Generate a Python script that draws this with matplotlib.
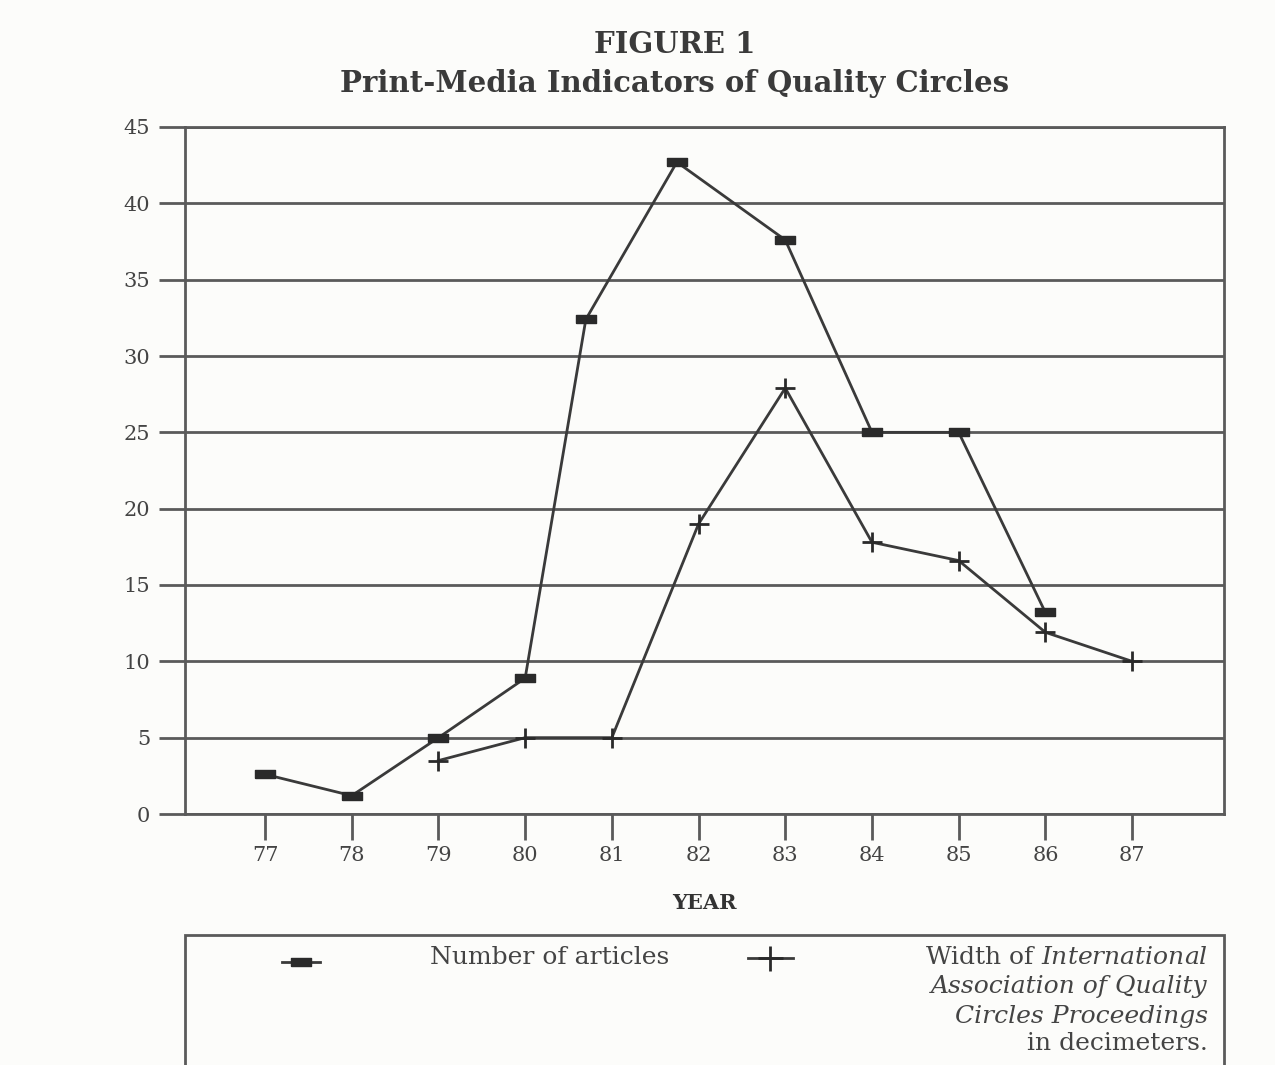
import matplotlib
matplotlib.use("Agg")
import matplotlib.pyplot as plt
from matplotlib.lines import Line2D
from matplotlib.patches import Rectangle

# values
years = [77, 78, 79, 80, 81, 82, 83, 84, 85, 86, 87]
articles_x = [77, 78, 79, 80, 80.7, 81.75, 83, 84, 85, 86]
articles_y = [2.6, 1.2, 5, 8.9, 32.4, 42.7, 37.6, 25, 25, 13.2]
width_x = [79, 80, 81, 82, 83, 84, 85, 86, 87]
width_y = [3.5, 5, 5, 19, 27.9, 17.8, 16.6, 11.9, 10]
yticks = [0, 5, 10, 15, 20, 25, 30, 35, 40, 45]

plt.rcParams["font.family"] = "DejaVu Serif"
plt.rcParams["mathtext.fontset"] = "custom"
plt.rcParams["mathtext.rm"] = "DejaVu Serif"
plt.rcParams["mathtext.it"] = "DejaVu Serif:italic"

ink = "#3a3a3a"
grid = "#5a5a5a"
text_c = "#444444"
bg = "#fcfcfa"

W, H = 1275, 1065
fig = plt.figure(figsize=(W / 100, H / 100), dpi=100, facecolor=bg)
ax = fig.add_axes([185 / W, 1 - 814 / H, (1224 - 185) / W, (814 - 127) / H])
ax.set_facecolor(bg)

# rectangle marker for the article counts
rect = [(-1, -0.38), (1, -0.38), (1, 0.38), (-1, 0.38), (-1, -0.38)]

ax.plot(articles_x, articles_y, color=ink, lw=2, marker=rect, ms=15,
        mfc="#2a2a2a", mec="#2a2a2a", zorder=3)
ax.plot(width_x, width_y, color=ink, lw=2, marker="+", ms=15, mew=2,
        mec="#2a2a2a", zorder=3)

ax.set_xlim(76.077, 88.06)
ax.set_ylim(0, 45)
ax.set_xticks(years)
ax.set_xticklabels([str(y) for y in years])
ax.set_yticks(yticks)
ax.yaxis.grid(True, color=grid, lw=2)
ax.set_axisbelow(True)

ax.tick_params(axis="x", length=19, width=2, color=grid, direction="out",
               labelsize=15, labelcolor=text_c, pad=4)
ax.tick_params(axis="y", length=19, width=2, color=grid, direction="out",
               labelsize=15, labelcolor=text_c, pad=6)
for s in ax.spines.values():
    s.set_color(grid)
    s.set_linewidth(2)

ax.set_xlabel("YEAR", fontsize=15, fontweight="bold", color="#333333",
              labelpad=20)

fig.text(675 / W, 1 - 45 / H, "FIGURE 1", ha="center", va="center",
         fontsize=21, fontweight="bold", color="#3a3a3a")
fig.text(675 / W, 1 - 83 / H, "Print-Media Indicators of Quality Circles",
         ha="center", va="center", fontsize=21, fontweight="bold",
         color="#3a3a3a")

# legend box, open at the bottom of the page
fig.add_artist(Rectangle((185 / W, -0.05), (1224 - 185) / W,
                         0.05 + (1065 - 935) / H, transform=fig.transFigure,
                         fill=False, ec=grid, lw=2))

fig.add_artist(Line2D([282 / W, 320 / W], [1 - 962 / H] * 2,
                      transform=fig.transFigure, color=ink, lw=2))
fig.add_artist(Line2D([301 / W], [1 - 962 / H], transform=fig.transFigure,
                      marker=rect, ms=15, color="#2a2a2a", lw=0))
fig.text(430 / W, 1 - 958 / H, "Number of articles", ha="left", va="center",
         fontsize=18, color=text_c)

fig.add_artist(Line2D([748 / W, 793 / W], [1 - 958 / H] * 2,
                      transform=fig.transFigure, color=ink, lw=2))
fig.add_artist(Line2D([770 / W], [1 - 958 / H], transform=fig.transFigure,
                      marker="+", ms=18, mew=2, color="#2a2a2a", lw=0))

rx = 1208 / W
fig.text(rx, 1 - 958 / H, r"Width of $\mathit{International}$", ha="right",
         va="center", fontsize=18, color=text_c)
fig.text(rx, 1 - 987 / H, "Association of Quality", ha="right", va="center",
         fontsize=18, color=text_c, fontstyle="italic")
fig.text(rx, 1 - 1016 / H, "Circles Proceedings", ha="right", va="center",
         fontsize=18, color=text_c, fontstyle="italic")
fig.text(rx, 1 - 1044 / H, "in decimeters.", ha="right", va="center",
         fontsize=18, color=text_c)

fig.savefig("out.png", dpi=100, facecolor=bg)
